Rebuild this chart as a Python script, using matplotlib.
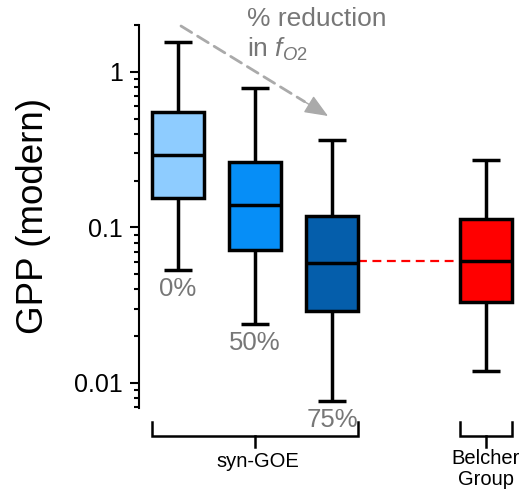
import matplotlib
matplotlib.use("Agg")
import matplotlib.pyplot as plt
import matplotlib.ticker as mticker
import matplotlib.transforms as mtransforms

plt.rcParams['font.family'] = ['Liberation Sans', 'DejaVu Sans']
plt.rcParams['mathtext.fontset'] = 'custom'
plt.rcParams['mathtext.rm'] = 'Liberation Sans'
plt.rcParams['mathtext.it'] = 'Liberation Sans:italic'

# ---- data ----
groups = ["0%", "50%", "75%", "Belcher"]
positions = [1, 2, 3, 5]
whislo = [0.0533, 0.0240, 0.0077, 0.0119]
q1 = [0.155, 0.0717, 0.0290, 0.0332]
med = [0.292, 0.140, 0.0590, 0.0610]
q3 = [0.553, 0.264, 0.119, 0.1137]
whishi = [1.56, 0.789, 0.365, 0.272]
colors = ["#8ECCFF", "#068EF7", "#055EAB", "#FF0000"]
pct_labels = ["0%", "50%", "75%"]
ytick_vals = [0.01, 0.1, 1]
ytick_labels = ["0.01", "0.1", "1"]

fig = plt.figure(figsize=(5.22, 4.96), dpi=100)
ax = fig.add_axes([139/522, 1-408/496, 383/522, 383/496])

stats = []
for i in range(len(groups)):
    stats.append(dict(med=med[i], q1=q1[i], q3=q3[i], whislo=whislo[i],
                      whishi=whishi[i], fliers=[], label=groups[i]))

lw = 2.5
bp = ax.bxp(stats, positions=positions, widths=0.675, patch_artist=True,
            showfliers=False,
            boxprops=dict(linewidth=lw, edgecolor='black'),
            whiskerprops=dict(linewidth=lw, color='black'),
            capprops=dict(linewidth=lw, color='black'),
            medianprops=dict(linewidth=lw, color='black'),
            capwidths=0.37)
for patch, c in zip(bp['boxes'], colors):
    patch.set_facecolor(c)
for ln in bp['whiskers'] + bp['caps'] + bp['medians']:
    ln.set_solid_capstyle('butt')

ax.set_yscale('log')
ax.set_ylim(0.0069, 2.005)
ax.set_xlim(0.4935, 5.467)

ax.yaxis.set_major_locator(mticker.FixedLocator(ytick_vals))
ax.yaxis.set_major_formatter(mticker.FixedFormatter(ytick_labels))
ax.yaxis.set_minor_locator(mticker.LogLocator(base=10, subs=range(2, 10)))
ax.yaxis.set_minor_formatter(mticker.NullFormatter())
ax.tick_params(axis='y', which='major', length=6.5, width=1.5, labelsize=18, pad=5)
ax.tick_params(axis='y', which='minor', length=3.6, width=1.5)
ax.set_xticks([])
for s in ['top', 'right', 'bottom']:
    ax.spines[s].set_visible(False)
ax.spines['left'].set_linewidth(1.5)

ax.set_ylabel("GPP (modern)", fontsize=26.5, labelpad=17)

# red dashed reference line at Belcher median
ax.plot([3 + 0.3375, 5 - 0.3375], [med[3], med[3]], color='red', lw=1.6,
        dashes=(4, 2.5), zorder=1)

# percentage labels below the lower whiskers
for i, lab in enumerate(pct_labels):
    ax.annotate(lab, (positions[i], whislo[i]), xytext=(0, -5),
                textcoords='offset points', ha='center', va='top',
                fontsize=18.5, color='#777777', annotation_clip=False)

# brackets
tr = mtransforms.blended_transform_factory(ax.transData, ax.transAxes)
y_top, y_mid, y_bot = -0.0366, -0.0731, -0.1018
def bracket(x0, x1):
    ax.plot([x0, x0, x1, x1], [y_top, y_mid, y_mid, y_top], color='black',
            lw=1.8, transform=tr, clip_on=False, solid_joinstyle='miter')
    xc = (x0 + x1) / 2
    ax.plot([xc, xc], [y_mid, y_bot], color='black', lw=1.8, transform=tr,
            clip_on=False)
bracket(1 - 0.34, 3 + 0.34)
bracket(5 - 0.34, 5 + 0.34)
ax.text(2.03, -0.115, "syn-GOE", transform=tr, ha='center', va='top', fontsize=14.5)
ax.text(5.0, -0.108, "Belcher\nGroup", transform=tr, ha='center', va='top',
        fontsize=14.5, linespacing=1.1)

# arrow and its label
p0 = (181/522, 1-26/496)
p1 = (328/522, 1-116/496)
pm = (p0[0] + 0.84*(p1[0]-p0[0]), p0[1] + 0.84*(p1[1]-p0[1]))
ax.annotate("", xy=pm, xytext=p0,
            xycoords='figure fraction', textcoords='figure fraction',
            arrowprops=dict(arrowstyle='-', color='#AAAAAA', lw=2.0,
                            linestyle=(0, (4.5, 2.5)), shrinkA=0, shrinkB=0))
ax.annotate("", xy=p1, xytext=pm,
            xycoords='figure fraction', textcoords='figure fraction',
            arrowprops=dict(arrowstyle='-|>,head_length=1.45,head_width=0.6',
                            color='#AAAAAA', lw=1.0, shrinkA=0, shrinkB=0))
fig.text(247/522, 1-26/496, "% reduction", fontsize=19, color='#777777',
         ha='left', va='baseline')
fig.text(247/522, 1-57/496, r"in $f_{O2}$", fontsize=19, color='#777777',
         ha='left', va='baseline')

fig.savefig("out.png", dpi=100)
